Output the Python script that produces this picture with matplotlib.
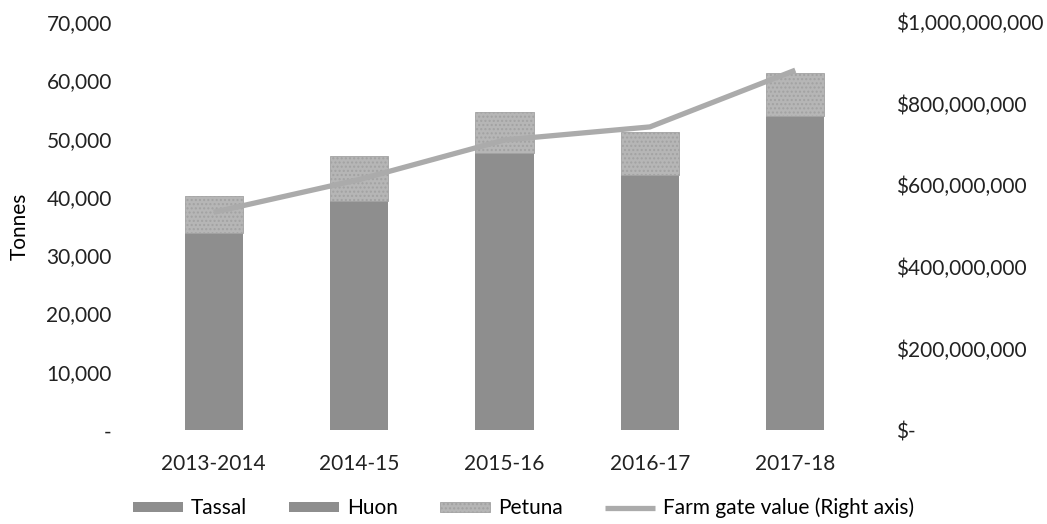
import matplotlib.pyplot as plt
from matplotlib.ticker import FuncFormatter

seasons = ["2013-2014", "2014-15", "2015-16", "2016-17", "2017-18"]
tassal = [20500, 24000, 29000, 26500, 32000]
huon = [13300, 15300, 18600, 17200, 21900]
petuna = [6300, 7700, 7000, 7400, 7300]
farm_gate = [534e6, 614e6, 711e6, 743e6, 882e6]

plt.rcParams['font.family'] = ['Lato', 'DejaVu Sans']
plt.rcParams['font.size'] = 15

fig = plt.figure(figsize=(10.47, 5.24), dpi=100)
ax = fig.add_axes([0.1347, 0.179, 0.6943, 0.779])
ax2 = ax.twinx()

x = range(len(seasons))
w = 0.4
bottom2 = [a + b for a, b in zip(tassal, huon)]
# Tassal and Huon share one grey, so no seam is drawn between them
ax.bar(x, tassal, w, color="#8e8e8e", linewidth=0, label="Tassal")
ax.bar(x, huon, w, bottom=tassal, color="#8e8e8e", linewidth=0, label="Huon")
ax.bar(x, petuna, w, bottom=bottom2, color="#b6b6b6", edgecolor="#a2a2a2", linewidth=0.6,
       hatch="....", label="Petuna")

ax2.plot(x, farm_gate, color="#ababab", linewidth=3.8, solid_capstyle="butt",
         label="Farm gate value (Right axis)")

ax.set_xlim(-0.5, 4.5)
ax.set_ylim(0, 70000)
ax.set_yticks(range(0, 70001, 10000))
ax.yaxis.set_major_formatter(FuncFormatter(lambda v, p: "-" if v == 0 else f"{v:,.0f}"))
ax2.set_ylim(0, 1e9)
ax2.set_yticks([i * 2e8 for i in range(6)])
ax2.yaxis.set_major_formatter(FuncFormatter(lambda v, p: "$-" if v == 0 else f"${v:,.0f}"))

ax.set_xticks(list(x))
ax.set_xticklabels(seasons)
ax.set_ylabel("Tonnes", labelpad=12)

for a in (ax, ax2):
    for s in a.spines.values():
        s.set_visible(False)
    a.tick_params(length=0, colors="#222222")
ax.tick_params(axis="y", pad=21)
ax.tick_params(axis="x", pad=17)
ax2.tick_params(axis="y", pad=20)
for t in ax2.get_yticklabels():
    t.set_horizontalalignment("left")

handles = ax.get_legend_handles_labels()[0] + ax2.get_legend_handles_labels()[0]
labels = ax.get_legend_handles_labels()[1] + ax2.get_legend_handles_labels()[1]
fig.legend(handles, labels, loc="lower center", bbox_to_anchor=(0.5, -0.025), ncol=4,
           frameon=False, handlelength=2.4, handleheight=0.4, columnspacing=2.0,
           handletextpad=0.4)

fig.savefig("out.png", dpi=100)
